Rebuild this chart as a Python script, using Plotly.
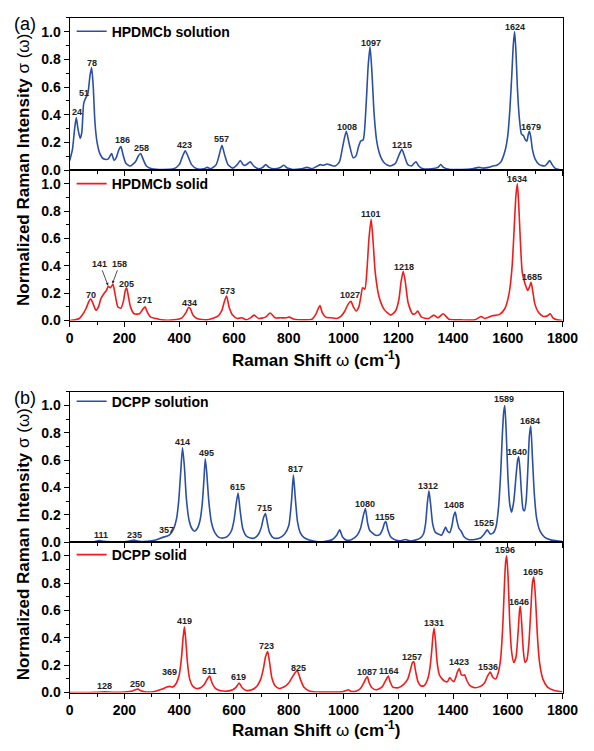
import plotly.graph_objects as go

# ---------------- data: HPDMCb solution (panel a, top) ----------------
a_sol_x = [0, 10, 18, 24, 30, 38, 44, 51, 58, 66, 74, 80, 86, 92, 100, 110, 125, 140, 153, 162, 170, 180, 187, 195,
           205, 220, 240, 250, 259, 268, 280, 300, 340, 380, 400, 412, 422, 432, 445, 465, 490, 502, 515, 535, 546,
           556, 566, 578, 595, 612, 623, 633, 641, 652, 660, 672, 690, 705, 716, 728, 745, 770, 782, 795, 815, 845,
           867, 885, 905, 915, 925, 940, 955, 970, 985, 998, 1010, 1022, 1035, 1045, 1055, 1063, 1072, 1082, 1090,
           1097, 1104, 1112, 1122, 1135, 1150, 1170, 1190, 1203, 1213, 1223, 1235, 1248, 1258, 1265, 1275, 1290,
           1320, 1345, 1355, 1365, 1390, 1430, 1470, 1494, 1510, 1530, 1545, 1560, 1575, 1590, 1600, 1608, 1615,
           1620, 1625, 1630, 1635, 1642, 1650, 1657, 1664, 1670, 1675, 1679, 1684, 1690, 1700, 1715, 1735, 1745,
           1753, 1762, 1775, 1800]
a_sol_y = [0.07, 0.15, 0.30, 0.38, 0.30, 0.23, 0.27, 0.48, 0.52, 0.55, 0.68, 0.74, 0.60, 0.35, 0.20, 0.12, 0.08, 0.08,
           0.12, 0.07, 0.09, 0.15, 0.17, 0.11, 0.05, 0.03, 0.06, 0.10, 0.12, 0.08, 0.03, 0.01, 0.005, 0.01, 0.04,
           0.10, 0.14, 0.10, 0.04, 0.01, 0.01, 0.02, 0.01, 0.04, 0.11, 0.18, 0.11, 0.04, 0.015, 0.04, 0.07, 0.04,
           0.035, 0.05, 0.06, 0.03, 0.01, 0.02, 0.04, 0.02, 0.01, 0.02, 0.035, 0.015, 0.005, 0.01, 0.02, 0.01, 0.03,
           0.04, 0.035, 0.045, 0.035, 0.03, 0.06, 0.18, 0.28, 0.18, 0.09, 0.10, 0.17, 0.21, 0.22, 0.45, 0.75, 0.89,
           0.70, 0.40, 0.20, 0.10, 0.05, 0.03, 0.05, 0.11, 0.15, 0.10, 0.04, 0.03, 0.05, 0.06, 0.03, 0.01, 0.01,
           0.02, 0.04, 0.02, 0.005, 0.005, 0.01, 0.02, 0.015, 0.02, 0.03, 0.035, 0.06, 0.14, 0.25, 0.45, 0.70, 0.90,
           1.00, 0.85, 0.60, 0.38, 0.26, 0.25, 0.22, 0.21, 0.26, 0.28, 0.24, 0.15, 0.08, 0.04, 0.03, 0.05, 0.07,
           0.04, 0.01, 0.0]

# ---------------- data: HPDMCb solid (panel a, bottom) ----------------
a_sld_x = [0, 20, 35, 49, 60, 70, 77, 84, 96, 105, 114, 126, 134, 141, 149, 158, 166, 176, 187, 196, 203, 208, 214,
           222, 235, 255, 266, 275, 284, 296, 315, 335, 380, 410, 425, 434, 440, 450, 465, 500, 540, 555, 565, 573,
           582, 595, 612, 629, 645, 660, 673, 690, 715, 732, 750, 770, 790, 802, 820, 850, 885, 900, 908, 914, 922,
           935, 955, 975, 990, 1005, 1017, 1027, 1036, 1046, 1056, 1063, 1070, 1078, 1086, 1093, 1101, 1108, 1116,
           1129, 1149, 1173, 1190, 1202, 1210, 1218, 1226, 1236, 1252, 1262, 1271, 1285, 1310, 1330, 1345, 1364,
           1385, 1430, 1480, 1502, 1515, 1544, 1570, 1590, 1605, 1616, 1624, 1630, 1635, 1640, 1646, 1653, 1663,
           1673, 1680, 1685, 1690, 1699, 1712, 1730, 1745, 1755, 1765, 1780, 1800]
a_sld_y = [0.0, 0.005, 0.015, 0.05, 0.09, 0.14, 0.16, 0.13, 0.075, 0.10, 0.16, 0.20, 0.22, 0.25, 0.24, 0.265, 0.19,
           0.10, 0.09, 0.14, 0.22, 0.24, 0.18, 0.10, 0.05, 0.05, 0.08, 0.10, 0.06, 0.025, 0.015, 0.005, 0.005, 0.02,
           0.06, 0.095, 0.09, 0.04, 0.015, 0.005, 0.03, 0.07, 0.14, 0.18, 0.10, 0.04, 0.015, 0.02, 0.005, 0.02, 0.04,
           0.015, 0.025, 0.055, 0.02, 0.02, 0.02, 0.025, 0.01, 0.005, 0.01, 0.05, 0.09, 0.11, 0.06, 0.025, 0.02,
           0.015, 0.03, 0.07, 0.12, 0.14, 0.10, 0.07, 0.10, 0.17, 0.24, 0.23, 0.38, 0.60, 0.74, 0.58, 0.35, 0.18,
           0.08, 0.04, 0.07, 0.15, 0.28, 0.36, 0.28, 0.13, 0.05, 0.05, 0.07, 0.025, 0.015, 0.04, 0.02, 0.05, 0.01,
           0.005, 0.005, 0.03, 0.015, 0.035, 0.045, 0.09, 0.20, 0.40, 0.70, 0.92, 1.0, 0.85, 0.58, 0.35, 0.27, 0.22,
           0.25, 0.28, 0.23, 0.12, 0.06, 0.03, 0.035, 0.05, 0.02, 0.005, 0.0]

# ---------------- data: DCPP solution (panel b, top) ----------------
b_sol_x = [0, 80, 100, 111, 122, 150, 200, 222, 235, 248, 270, 300, 320, 340, 357, 368, 380, 390, 398, 405, 412, 419,
           426, 436, 446, 456, 466, 476, 484, 490, 495, 500, 508, 518, 530, 545, 560, 575, 590, 600, 608, 615, 622,
           632, 645, 660, 675, 690, 700, 708, 715, 722, 730, 745, 765, 785, 800, 810, 817, 824, 832, 842, 855, 875,
           900, 930, 960, 975, 986, 996, 1010, 1030, 1050, 1062, 1072, 1080, 1088, 1096, 1104, 1118, 1132, 1142,
           1150, 1155, 1162, 1172, 1190, 1208, 1226, 1244, 1262, 1280, 1292, 1300, 1306, 1312, 1318, 1326, 1336,
           1346, 1358, 1366, 1373, 1380, 1388, 1396, 1402, 1408, 1414, 1422, 1430, 1440, 1455, 1480, 1500, 1514,
           1525, 1536, 1548, 1558, 1566, 1574, 1580, 1585, 1589, 1594, 1600, 1607, 1614, 1622, 1630, 1636, 1640,
           1645, 1650, 1656, 1661, 1667, 1673, 1679, 1684, 1690, 1697, 1705, 1718, 1735, 1760, 1800]
b_sol_y = [0.0, 0.002, 0.008, 0.012, 0.006, 0.002, 0.003, 0.01, 0.015, 0.008, 0.004, 0.01, 0.02, 0.035, 0.045, 0.06,
           0.10, 0.17, 0.30, 0.50, 0.69, 0.55, 0.32, 0.16, 0.10, 0.08, 0.10, 0.16, 0.28, 0.45, 0.61, 0.52, 0.30, 0.14,
           0.07, 0.035, 0.03, 0.04, 0.08, 0.16, 0.28, 0.36, 0.24, 0.10, 0.045, 0.03, 0.03, 0.06, 0.11, 0.18, 0.21,
           0.14, 0.07, 0.03, 0.03, 0.06, 0.12, 0.30, 0.49, 0.32, 0.15, 0.07, 0.035, 0.015, 0.005, 0.005, 0.02, 0.05,
           0.09, 0.04, 0.015, 0.02, 0.05, 0.10, 0.19, 0.245, 0.14, 0.085, 0.07, 0.05, 0.055, 0.09, 0.14, 0.15, 0.09,
           0.04, 0.015, 0.01, 0.02, 0.008, 0.015, 0.03, 0.06, 0.14, 0.28, 0.375, 0.28, 0.13, 0.07, 0.06, 0.05, 0.08,
           0.11, 0.08, 0.07, 0.12, 0.19, 0.22, 0.16, 0.10, 0.08, 0.04, 0.02, 0.02, 0.03, 0.06, 0.09, 0.06, 0.07, 0.12,
           0.25, 0.50, 0.78, 0.95, 1.0, 0.82, 0.50, 0.28, 0.22, 0.30, 0.48, 0.60, 0.625, 0.52, 0.36, 0.24, 0.23,
           0.30, 0.52, 0.78, 0.85, 0.62, 0.35, 0.18, 0.08, 0.035, 0.015, 0.005]

# ---------------- data: DCPP solid (panel b, bottom) ----------------
b_sld_x = [0, 100, 128, 160, 200, 230, 242, 250, 258, 275, 310, 338, 355, 365, 376, 390, 400, 408, 414, 419, 424, 430,
           438, 448, 462, 478, 492, 500, 511, 520, 532, 548, 575, 595, 608, 619, 630, 645, 665, 685, 698, 708, 715,
           723, 730, 738, 750, 765, 782, 800, 815, 825, 832, 842, 855, 875, 900, 950, 995, 1010, 1018, 1028, 1045,
           1062, 1074, 1081, 1087, 1094, 1104, 1120, 1140, 1152, 1160, 1164, 1170, 1180, 1200, 1220, 1235, 1245,
           1252, 1257, 1263, 1272, 1282, 1294, 1306, 1315, 1322, 1327, 1331, 1336, 1342, 1350, 1360, 1372, 1380,
           1388, 1396, 1403, 1410, 1416, 1423, 1430, 1436, 1442, 1450, 1462, 1480, 1500, 1515, 1526, 1536, 1546,
           1556, 1566, 1574, 1582, 1588, 1592, 1596, 1601, 1607, 1614, 1622, 1630, 1638, 1643, 1646, 1651, 1657,
           1663, 1670, 1677, 1684, 1690, 1695, 1701, 1708, 1716, 1728, 1745, 1770, 1800]
b_sld_y = [0.0, 0.002, 0.005, 0.002, 0.004, 0.012, 0.022, 0.025, 0.015, 0.005, 0.008, 0.025, 0.04, 0.045, 0.04, 0.07,
           0.13, 0.25, 0.40, 0.48, 0.38, 0.22, 0.10, 0.05, 0.03, 0.035, 0.06, 0.09, 0.12, 0.07, 0.03, 0.015, 0.01,
           0.02, 0.04, 0.07, 0.035, 0.015, 0.02, 0.05, 0.10, 0.18, 0.26, 0.30, 0.22, 0.11, 0.05, 0.03, 0.04, 0.07,
           0.12, 0.15, 0.155, 0.10, 0.04, 0.012, 0.004, 0.003, 0.005, 0.015, 0.02, 0.008, 0.01, 0.03, 0.07, 0.10,
           0.115, 0.07, 0.035, 0.02, 0.04, 0.08, 0.11, 0.12, 0.08, 0.04, 0.035, 0.06, 0.10, 0.17, 0.22, 0.225, 0.16,
           0.08, 0.05, 0.05, 0.09, 0.17, 0.30, 0.42, 0.47, 0.38, 0.22, 0.13, 0.10, 0.08, 0.08, 0.11, 0.09, 0.08,
           0.11, 0.15, 0.175, 0.13, 0.125, 0.13, 0.09, 0.05, 0.035, 0.045, 0.07, 0.12, 0.15, 0.11, 0.10, 0.15, 0.25,
           0.50, 0.80, 0.95, 1.0, 0.85, 0.52, 0.30, 0.22, 0.26, 0.45, 0.60, 0.63, 0.50, 0.30, 0.22, 0.24, 0.36, 0.60,
           0.80, 0.845, 0.70, 0.42, 0.22, 0.10, 0.04, 0.015, 0.005]

# ---------------- peak labels (text, x, y of label centre) ----------------
a_sol_lbl = ["24", "51", "78", "186", "258", "423", "557", "1008", "1097", "1215", "1624", "1679"]
a_sol_lx = [28, 52, 81, 194, 261, 420, 556, 1012, 1102, 1214, 1626, 1684]
a_sol_ly = [0.42, 0.555, 0.775, 0.215, 0.16, 0.185, 0.226, 0.31, 0.92, 0.185, 1.035, 0.31]

a_sld_lbl = ["70", "205", "271", "434", "573", "1027", "1101", "1218", "1634", "1685"]
a_sld_lx = [79, 208, 273, 438, 575, 1022, 1102, 1222, 1635, 1687]
a_sld_ly = [0.19, 0.27, 0.15, 0.13, 0.215, 0.19, 0.78, 0.39, 1.035, 0.32]
a_sld_arrow_lbl = ["141", "158"]
a_sld_arrow_lx = [110, 183]
a_sld_arrow_ly = [0.415, 0.415]
a_sld_arrow_px = [140, 156]
a_sld_arrow_py = [0.255, 0.27]

b_sol_lbl = ["111", "235", "357", "414", "495", "615", "715", "817", "1080", "1155", "1312", "1408", "1525",
             "1589", "1640", "1684"]
b_sol_lx = [114, 235, 355, 412, 499, 614, 711, 826, 1079, 1152, 1308, 1402, 1514, 1588, 1635, 1681]
b_sol_ly = [0.05, 0.056, 0.087, 0.73, 0.655, 0.40, 0.25, 0.535, 0.28, 0.185, 0.41, 0.27, 0.14, 1.05, 0.66, 0.885]

b_sld_lbl = ["128", "250", "369", "419", "511", "619", "723", "825", "1087", "1164", "1257", "1331", "1423",
             "1536", "1596", "1646", "1695"]
b_sld_lx = [126, 249, 365, 418, 511, 618, 720, 834, 1085, 1167, 1249, 1329, 1422, 1526, 1591, 1641, 1693]
b_sld_ly = [0.048, 0.065, 0.15, 0.525, 0.16, 0.115, 0.34, 0.18, 0.15, 0.155, 0.26, 0.51, 0.22, 0.19, 1.04, 0.665,
            0.885]

series_names = ["HPDMCb solution", "HPDMCb solid", "DCPP solution", "DCPP solid"]
x_ticks = [0, 200, 400, 600, 800, 1000, 1200, 1400, 1600, 1800]

# ---------------- layout helpers ----------------
W, H = 594, 751
FONT = "Liberation Sans, Arial, Helvetica, sans-serif"
BLUE = "#2A4FA5"
RED = "#F21B1B"


def fx(p):
    return p / W


def fy(p):
    return 1 - p / H


xdom = [fx(68), fx(578)]
# (top px, bottom px) for each subplot
rows = [(18, 172), (172, 324), (396, 548), (548, 700)]

fig = go.Figure()
sets = [(a_sol_x, a_sol_y, BLUE), (a_sld_x, a_sld_y, RED), (b_sol_x, b_sol_y, BLUE), (b_sld_x, b_sld_y, RED)]
legend_keys = ["legend", "legend2", "legend3", "legend4"]
legend_ypx = [32, 186, 406, 561]

for i, (xs, ys, col) in enumerate(sets):
    sfx = "" if i == 0 else str(i + 1)
    fig.add_trace(go.Scatter(x=xs, y=ys, mode="lines", name=series_names[i],
                             line=dict(color=col, width=1.6, shape="spline", smoothing=0.6),
                             xaxis="x" + sfx, yaxis="y" + sfx, legend=legend_keys[i]))

layout = dict(width=W, height=H, margin=dict(l=0, r=0, t=0, b=0), plot_bgcolor="white", paper_bgcolor="white",
              font=dict(family=FONT, color="black"), showlegend=True)

for i, (t, b) in enumerate(rows):
    sfx = "" if i == 0 else str(i + 1)
    is_bottom = i in (1, 3)
    layout["xaxis" + sfx] = dict(
        domain=xdom, anchor="y" + sfx, range=[0, 1800], tickvals=x_ticks,
        showticklabels=is_bottom, ticks="outside", ticklen=5, tickwidth=1.2, tickcolor="black",
        minor=dict(dtick=100, tick0=0, ticks="outside", ticklen=3, tickwidth=1, tickcolor="black"),
        showline=True, linecolor="black", linewidth=1.3, mirror=True, showgrid=False, zeroline=False,
        tickfont=dict(family=FONT, size=14, weight="bold", color="black"))
    layout["yaxis" + sfx] = dict(
        domain=[fy(b), fy(t)], anchor="x" + sfx, range=[0, 1.1], tickvals=[0, 0.2, 0.4, 0.6, 0.8, 1.0],
        ticktext=["0.0", "0.2", "0.4", "0.6", "0.8", "1.0"],
        ticks="outside", ticklen=5, tickwidth=1.2, tickcolor="black",
        minor=dict(dtick=0.1, tick0=0, ticks="outside", ticklen=3, tickwidth=1, tickcolor="black"),
        showline=True, linecolor="black", linewidth=1.3, mirror=True, showgrid=False, zeroline=False,
        tickfont=dict(family=FONT, size=14, weight="bold", color="black"))
    layout[legend_keys[i]] = dict(x=fx(70), y=fy(legend_ypx[i]), xanchor="left", yanchor="middle",
                                  bgcolor="rgba(0,0,0,0)", borderwidth=0,
                                  font=dict(family=FONT, size=14, weight="bold", color="black"))

fig.update_layout(**layout)

ann = []
lbl_sets = [(a_sol_lbl, a_sol_lx, a_sol_ly, ""), (a_sld_lbl, a_sld_lx, a_sld_ly, "2"),
            (b_sol_lbl, b_sol_lx, b_sol_ly, "3"), (b_sld_lbl, b_sld_lx, b_sld_ly, "4")]
for lbls, lx, ly, sfx in lbl_sets:
    for t, x, y in zip(lbls, lx, ly):
        ann.append(dict(text=t, x=x, y=y, xref="x" + sfx, yref="y" + sfx, showarrow=False,
                        xanchor="center", yanchor="middle",
                        font=dict(family=FONT, size=9, weight="bold", color="#222")))
for t, lx, ly, px, py in zip(a_sld_arrow_lbl, a_sld_arrow_lx, a_sld_arrow_ly, a_sld_arrow_px, a_sld_arrow_py):
    ann.append(dict(text=t, x=px, y=py, ax=lx, ay=ly, xref="x2", yref="y2", axref="x2", ayref="y2",
                    showarrow=True, arrowhead=2, arrowsize=0.7, arrowwidth=0.8, arrowcolor="#222",
                    font=dict(family=FONT, size=9, weight="bold", color="#222")))

ytitle = "<b>Normalized Raman Intensity</b> σ (ω)"
xtitle = "<b>Raman Shift</b> ω <b>(cm<sup>-1</sup>)</b>"
for cy in (171.5, 550):
    ann.append(dict(text=ytitle, x=fx(8), y=fy(cy), xref="paper", yref="paper", textangle=-90,
                    xanchor="left", yanchor="middle",
                    showarrow=False, font=dict(family=FONT, size=17, color="black")))
for by in (376, 750):
    ann.append(dict(text=xtitle, x=fx(323), y=fy(by), xref="paper", yref="paper",
                    xanchor="center", yanchor="bottom",
                    showarrow=False, font=dict(family=FONT, size=17, color="black")))
for t, cy in (("(a)", 24), ("(b)", 402)):
    ann.append(dict(text=t, x=fx(22), y=fy(cy), xref="paper", yref="paper", showarrow=False,
                    xanchor="center", yanchor="middle",
                    font=dict(family=FONT, size=18, color="black")))

fig.update_layout(annotations=ann)
fig.write_html(
    "out.html", config={"responsive": False},
    post_script="document.documentElement.style.margin='0';document.documentElement.style.overflow='hidden';"
                "document.body.style.margin='0';document.body.style.overflow='hidden';")
